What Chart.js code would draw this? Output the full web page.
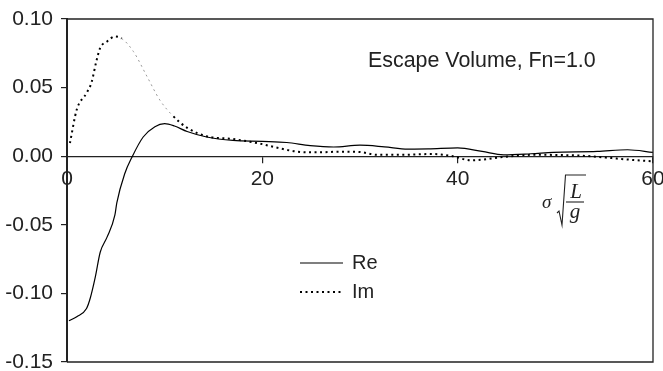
<!DOCTYPE html>
<html>
<head>
<meta charset="utf-8">
<script src="https://cdn.jsdelivr.net/npm/chart.js@4.4.1/dist/chart.umd.min.js"></script>
<style>
  html, body { margin: 0; padding: 0; background: #fff; }
  #wrap { width: 663px; height: 371px; position: relative; }
</style>
</head>
<body>
<div id="wrap"><canvas id="chart"></canvas></div>
<script>
// Values
const reX = [0.2, 1.0, 2.0, 2.4, 2.9, 3.4, 4.1, 4.9, 5.1, 5.9, 6.7, 7.8, 9.0, 10.0, 11.0, 12.3, 14.3, 17.0, 20.0, 22.5, 24.9, 27.3, 30.0, 32.5, 34.9, 37.0, 40.0, 42.5, 44.7, 47.5, 49.8, 54.3, 57.4, 60.0];
const reY = [-0.120, -0.117, -0.111, -0.103, -0.088, -0.070, -0.059, -0.043, -0.034, -0.013, 0.000, 0.014, 0.0215, 0.0237, 0.022, 0.018, 0.014, 0.0115, 0.0108, 0.010, 0.0077, 0.0067, 0.0080, 0.0068, 0.0052, 0.0053, 0.0060, 0.0035, 0.0010, 0.0018, 0.0028, 0.0035, 0.0047, 0.0028];

const imX = [0.3, 1.0, 2.0, 2.5, 3.0, 3.4, 4.1, 4.9, 5.6, 6.8, 8.2, 9.5, 10.9, 12.3, 14.3, 17.0, 19.8, 21.8, 23.6, 25.6, 28.0, 30.0, 31.8, 34.2, 37.5, 39.5, 41.3, 44.7, 47.5, 52.6, 57.7, 60.0];
const imY = [0.0096, 0.034, 0.046, 0.0535, 0.069, 0.079, 0.0836, 0.0872, 0.0858, 0.0763, 0.058, 0.041, 0.029, 0.0207, 0.0145, 0.0125, 0.0091, 0.0057, 0.0033, 0.0028, 0.0033, 0.0030, 0.0010, 0.0010, 0.0016, 0.0000, -0.0030, -0.0006, 0.0010, 0.0004, -0.0026, -0.0038];

const xTicks = [0, 20, 40, 60];
const yTicks = [-0.15, -0.10, -0.05, 0.00, 0.05, 0.10];

const seriesNames = ["Re", "Im"];
const titleText = "Escape Volume, Fn=1.0";

const textColor = "#222";
const sans = "'Liberation Sans', Arial, sans-serif";
const serif = "'Liberation Serif', 'Times New Roman', serif";

// the faint part of the Im curve, between the peak and where it meets Re
const fadeFrom = 5.6, fadeTo = 10.9;
const isFaded = ctx => ctx.p0.parsed.x >= fadeFrom && ctx.p1.parsed.x <= fadeTo;

// keep the scales from reserving room for label overflow
const noPadding = s => {
  s.paddingTop = 0;
  s.paddingBottom = 0;
  s.paddingLeft = 0;
  s.paddingRight = 0;
};

// frame around the plot, title, x label and legend
const decorations = {
  id: "decorations",
  afterDraw(chart) {
    const { ctx, chartArea: a } = chart;
    ctx.save();
    ctx.strokeStyle = "#222";
    ctx.lineWidth = 1.3;
    ctx.beginPath();
    ctx.moveTo(a.left, a.top);
    ctx.lineTo(a.right, a.top);
    ctx.lineTo(a.right, a.bottom);
    ctx.lineTo(a.left, a.bottom);
    ctx.stroke();

    ctx.fillStyle = textColor;
    ctx.font = "21.4px " + sans;
    ctx.textBaseline = "alphabetic";
    ctx.textAlign = "left";
    ctx.fillText(titleText, 368, 67);

    // sigma sqrt(L/g)
    ctx.font = "italic 19px " + serif;
    ctx.fillText("σ", 542, 208);
    ctx.lineWidth = 1.1;
    ctx.beginPath();
    ctx.moveTo(557, 213);
    ctx.lineTo(559, 211);
    ctx.lineTo(562, 225);
    ctx.lineTo(565.5, 175);
    ctx.lineTo(586, 175);
    ctx.stroke();
    ctx.beginPath();
    ctx.moveTo(566, 202);
    ctx.lineTo(584, 202);
    ctx.stroke();
    ctx.font = "italic 21px " + serif;
    ctx.textAlign = "center";
    ctx.fillText("L", 576, 198);
    ctx.fillText("g", 575, 218);

    // legend
    ctx.textAlign = "left";
    ctx.textBaseline = "middle";
    ctx.font = "20px " + sans;
    const rows = [263, 292];
    chart.data.datasets.forEach((ds, i) => {
      const y = rows[i];
      ctx.strokeStyle = "#000";
      ctx.lineWidth = ds.borderWidth;
      ctx.setLineDash(ds.borderDash || []);
      ctx.beginPath();
      ctx.moveTo(300, y);
      ctx.lineTo(343, y);
      ctx.stroke();
      ctx.setLineDash([]);
      ctx.fillText(ds.label, 352, y);
    });
    ctx.restore();
  }
};

new Chart(document.getElementById("chart"), {
  type: "line",
  data: {
    datasets: [
      {
        label: seriesNames[0],
        data: reX.map((x, i) => ({ x, y: reY[i] })),
        borderColor: "#000",
        borderWidth: 1.2,
        pointRadius: 0,
        cubicInterpolationMode: "monotone",
        fill: false
      },
      {
        label: seriesNames[1],
        data: imX.map((x, i) => ({ x, y: imY[i] })),
        borderColor: "#000",
        borderWidth: 2,
        borderDash: [2, 3.5],
        pointRadius: 0,
        cubicInterpolationMode: "monotone",
        fill: false,
        segment: {
          borderColor: ctx => isFaded(ctx) ? "#999" : undefined,
          borderWidth: ctx => isFaded(ctx) ? 1 : undefined
        }
      }
    ]
  },
  options: {
    responsive: true,
    maintainAspectRatio: false,
    animation: false,
    layout: { padding: { top: 19, right: 10, bottom: 9, left: 0 } },
    plugins: { legend: { display: false }, tooltip: { enabled: false } },
    scales: {
      x: {
        type: "linear",
        position: { y: 0 },
        min: 0,
        max: 60,
        afterBuildTicks: s => { s.ticks = xTicks.map(v => ({ value: v })); },
        afterFit: s => { s.height = 0; noPadding(s); },
        border: { color: "#222", width: 1.2 },
        grid: { drawOnChartArea: false, drawTicks: true, tickLength: 6, color: "#222", lineWidth: 1.2 },
        ticks: { color: textColor, font: { size: 21, family: sans }, padding: 4, maxRotation: 0 }
      },
      y: {
        type: "linear",
        position: "left",
        min: -0.15,
        max: 0.10,
        afterBuildTicks: s => { s.ticks = yTicks.map(v => ({ value: v })); },
        afterFit: s => { s.width = 67; noPadding(s); },
        border: { color: "#222", width: 2 },
        grid: { drawOnChartArea: false, drawTicks: true, tickLength: 6, color: "#222", lineWidth: 1.2 },
        ticks: { color: textColor, font: { size: 21, family: sans }, padding: 8, callback: v => v.toFixed(2) }
      }
    }
  },
  plugins: [decorations]
});
</script>
</body>
</html>
